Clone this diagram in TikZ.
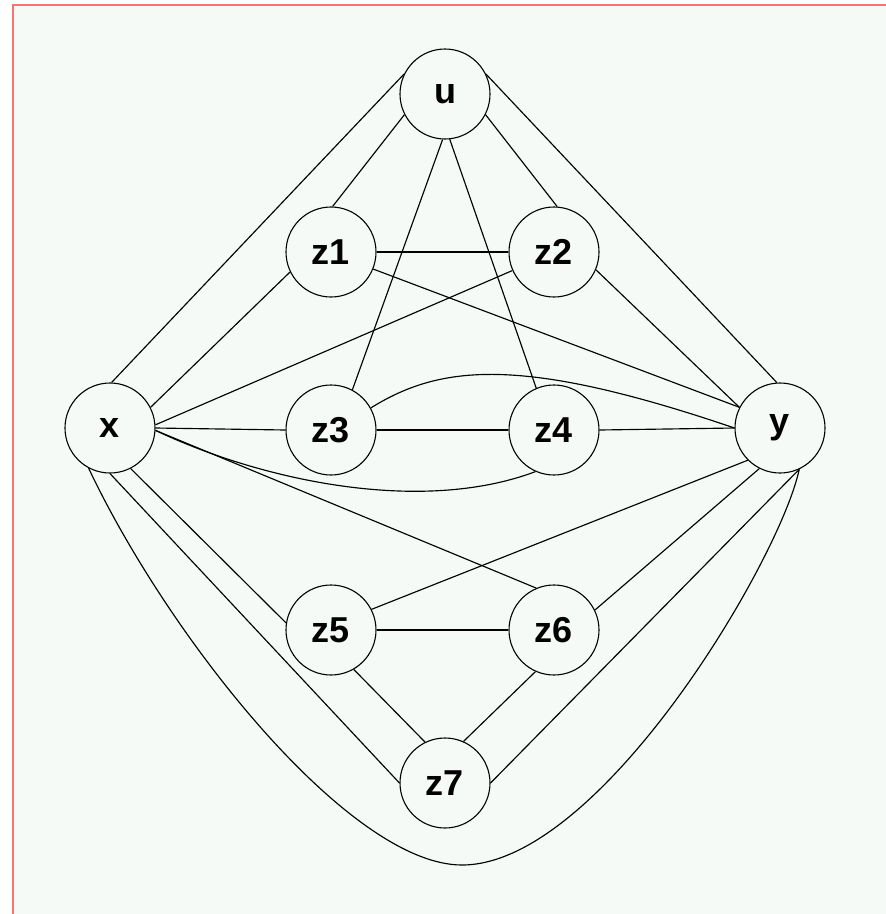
\documentclass[tikz,border=0pt]{standalone}
\usepackage{fontspec}
\setmainfont{Liberation Sans}
\definecolor{bgc}{HTML}{F5FAF7}
\definecolor{frame}{HTML}{FF7070}
\begin{document}
\begin{tikzpicture}[x=1pt,y=-1pt,
  vtx/.style={circle,draw,line width=1.1pt,minimum size=90pt,inner sep=0pt,
    font=\fontsize{36}{42}\selectfont\bfseries},
  edge/.style={line width=1.15pt}]
\useasboundingbox (0,0) rectangle (886,914);
\fill[white] (0,0) rectangle (886,914);
\fill[bgc] (13,5) rectangle (886,914);
\draw[frame,line width=1.8pt] (13,914) -- (13,5) -- (886,5);

\node[vtx] (u)  at (445,94)  {u};
\node[vtx] (z1) at (331,252) {z1};
\node[vtx] (z2) at (554,252) {z2};
\node[vtx] (x)  at (110,428) {x};
\node[vtx] (z3) at (331,430) {z3};
\node[vtx] (z4) at (554,430) {z4};
\node[vtx] (y)  at (780,428) {y};
\node[vtx] (z5) at (331,630) {z5};
\node[vtx] (z6) at (554,630) {z6};
\node[vtx] (z7) at (445,783) {z7};
\coordinate (bot) at (462,865);

\begin{scope}[edge]
\draw (u.154) -- (x.88);
\draw (u.207) -- (z1.88);
\draw (u.333) -- (z2.86);
\draw (u.26) -- (y.94);
\draw (u.267) -- (z3.62);
\draw (u.276) -- (z4.113);
\draw (z1.0) -- (z2.180);
\draw (z1.338) -- (y.153);
\draw (z2.204) -- (x.4);
\draw (z1.206) -- (x.27);
\draw (z2.337) -- (y.153);
\draw (x.0) -- (z3.180);
\draw (z3.0) -- (z4.180);
\draw (z4.0) -- (y.180);
\draw (z3.29) .. controls (440,365) and (520,355) .. (y.180);
\draw (x.357) .. controls (260,480) and (420,515) .. (z4.246);
\draw (x.357) -- (z6.113);
\draw (x.297) -- (z5.171);
\draw (x.270) -- (z7.180);
\draw (x.242) .. controls (170,640) and (350,865) .. (bot)
      .. controls (600,865) and (780,560) .. (y.295);
\draw (z5.27) -- (y.225);
\draw (z5.0) -- (z6.180);
\draw (z5.300) -- (z7.116);
\draw (z6.246) -- (z7.66);
\draw (z6.26) -- (y.243);
\draw (z7.0) -- (y.295);
\end{scope}
\end{tikzpicture}
\end{document}
